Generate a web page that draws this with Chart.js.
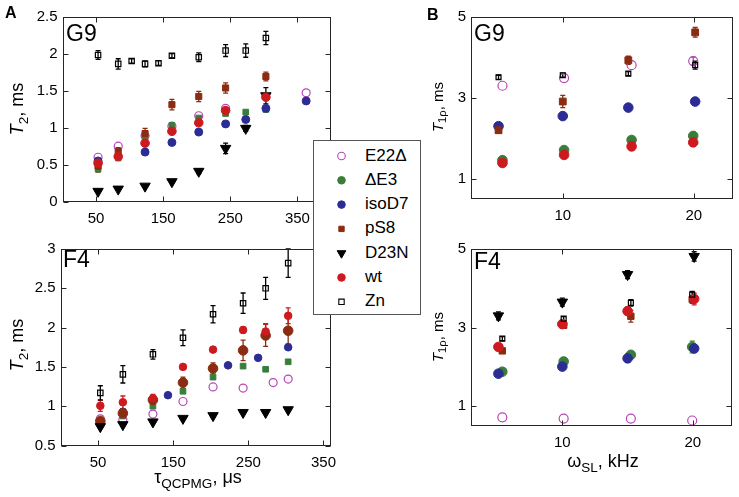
<!DOCTYPE html>
<html>
<head>
<meta charset="utf-8">
<script src="https://cdn.jsdelivr.net/npm/chart.js"></script>
<style>
  body { margin: 0; background: #fff; }
  #page { position: relative; width: 739px; height: 497px; overflow: hidden; font-family: "Liberation Sans", Arial, sans-serif; color: #000; }
  canvas.panel { position: absolute; }
  .lbl { position: absolute; white-space: nowrap; line-height: 1; }
  .tag { font-size: 23px; }
  .letter { font-size: 16px; font-weight: bold; }
  .ytitle { transform: translate(-50%, -50%) rotate(-90deg); }
  .xtitle { transform: translateX(-50%); }
  sub { font-size: 0.75em; vertical-align: -0.35em; line-height: 0; }
  #legend { position: absolute; left: 313px; top: 140px; width: 106px; height: 173px; border: 1px solid #555; background: #fff; z-index: 5; }
  #legend canvas { position: absolute; left: 0; top: 0; }
  #legend span { position: absolute; left: 51px; font-size: 17px; line-height: 24px; }
</style>
</head>
<body>
<div id="page">
  <canvas class="panel" id="aG9" width="345" height="232" style="left:0;top:0"></canvas>
  <canvas class="panel" id="aF4" width="345" height="262" style="left:0;top:235px"></canvas>
  <canvas class="panel" id="bG9" width="319" height="232" style="left:420px;top:0"></canvas>
  <canvas class="panel" id="bF4" width="319" height="262" style="left:420px;top:235px"></canvas>

  <div class="lbl letter" style="left:5px;top:5px">A</div>
  <div class="lbl letter" style="left:427px;top:7px">B</div>
  <div class="lbl tag" style="left:66px;top:22px">G9</div>
  <div class="lbl tag" style="left:63px;top:248px">F4</div>
  <div class="lbl tag" style="left:474px;top:22px">G9</div>
  <div class="lbl tag" style="left:474px;top:250px">F4</div>

  <div class="lbl ytitle" style="left:17px;top:109px;font-size:18px"><i>T</i><sub>2</sub>, ms</div>
  <div class="lbl ytitle" style="left:17px;top:345px;font-size:18px"><i>T</i><sub>2</sub>, ms</div>
  <div class="lbl ytitle" style="left:437px;top:107px;font-size:15px"><i>T</i><sub>1ρ</sub>, ms</div>
  <div class="lbl ytitle" style="left:437px;top:337px;font-size:15px"><i>T</i><sub>1ρ</sub>, ms</div>
  <div class="lbl xtitle" style="left:198px;top:468px;font-size:18px">τ<sub>QCPMG</sub>, μs</div>
  <div class="lbl xtitle" style="left:603px;top:452px;font-size:18px">ω<sub>SL</sub>, kHz</div>

  <div id="legend"><canvas id="legendMarks" width="50" height="173"></canvas></div>
</div>

<script>
// series, in legend order
const seriesNames = ["E22Δ", "ΔE3", "isoD7", "pS8", "D23N", "wt", "Zn"];
const seriesColors = ["#b845b8", "#3a7d3a", "#2b2d94", "#8b2c12", "#000000", "#cc1a1f", "#000000"];

// panel A, G9 : T2 vs tau_QCPMG
const aG9X = [53, 83, 123, 163, 203, 243, 273, 303, 363];
const aG9E22d = [0.60, 0.75, 0.89, 1.02, 1.16, 1.26, null, null, 1.47];
const aG9dE3 = [0.44, 0.59, 0.87, 1.03, 1.13, 1.19, 1.21, 1.245, null];
const aG9Iso = [0.55, null, 0.67, 0.80, 0.94, 1.05, 1.11, 1.26, 1.36];
const aG9PS8 = [0.48, 0.68, 0.92, 1.31, 1.42, 1.535, null, 1.69, null];
const aG9PS8Err = [0.08, 0.05, 0.07, 0.07, 0.07, 0.07, 0, 0.06, 0];
const aG9D23N = [0.14, 0.17, 0.21, 0.27, 0.41, 0.72, 0.99, 1.43, null];
const aG9D23NErr = [0, 0, 0, 0, 0.03, 0.07, 0.04, 0.11, 0];
const aG9Wt = [0.52, 0.61, 0.79, 0.95, 1.065, 1.23, null, 1.41, null];
const aG9ZnX = [53, 83, 103, 123, 143, 163, 203, 243, 273, 303];
const aG9Zn = [1.98, 1.86, 1.90, 1.86, 1.87, 1.97, 1.95, 2.04, 2.04, 2.21];
const aG9ZnErr = [0.06, 0.07, 0.03, 0.04, 0.03, 0.03, 0.06, 0.08, 0.09, 0.09];

// panel A, F4
const aF4X = [53, 83, 123, 163, 203, 243, 273, 303];
const aF4E22dX = [53, 83, 123, 163, 203, 243, 283, 303];
const aF4E22d = [0.84, 0.83, 0.90, 1.06, 1.245, 1.23, 1.30, 1.345];
const aF4dE3 = [0.77, 0.875, 1.00, 1.19, 1.37, 1.51, 1.47, 1.565];
const aF4IsoX = [83, 143, 223, 263, 303];
const aF4Iso = [0.93, 1.14, 1.52, 1.615, 1.75];
const aF4PS8 = [0.81, 0.91, 1.08, 1.30, 1.48, 1.71, 1.90, 1.96];
const aF4PS8Err = [0, 0.03, 0.04, 0.07, 0.07, 0.13, 0.14, 0.17];
const aF4D23N = [0.74, 0.765, 0.80, 0.845, 0.88, 0.92, 0.92, 0.955];
const aF4Wt = [1.005, 1.05, 1.10, 1.50, 1.72, 1.97, 1.95, 2.15];
const aF4WtErr = [0.07, 0.08, 0.05, 0, 0, 0.04, 0.1, 0.1];
const aF4Zn = [1.17, 1.405, 1.66, 1.87, 2.17, 2.31, 2.50, 2.82];
const aF4ZnErr = [0.09, 0.11, 0.06, 0.10, 0.11, 0.13, 0.14, 0.18];

// panel B, G9 : T1rho vs omega_SL
const bXa = [5.1, 10.0, 15.0, 20.1];
const bXb = [5.4, 10.1, 15.25, 19.95];
const bG9E22d = [3.30, 3.49, 3.81, 3.91];
const bG9E22dErr = [0, 0, 0, 0.1];
const bG9dE3 = [1.46, 1.71, 1.96, 2.06];
const bG9Iso = [2.30, 2.55, 2.76, 2.91];
const bG9PS8 = [2.20, 2.91, 3.93, 4.62];
const bG9PS8Err = [0.05, 0.15, 0.1, 0.12];
const bG9Wt = [1.39, 1.59, 1.80, 1.90];
const bG9WtErr = [0, 0, 0.1, 0.1];
const bG9Zn = [3.51, 3.56, 3.60, 3.81];
const bG9ZnErr = [0.05, 0.05, 0.05, 0.1];

// panel B, F4
const bF4E22d = [0.72, 0.69, 0.69, 0.64];
const bF4dE3 = [1.88, 2.14, 2.31, 2.51];
const bF4dE3Err = [0, 0, 0, 0.15];
const bF4Iso = [1.83, 2.01, 2.22, 2.47];
const bF4IsoErr = [0, 0, 0.1, 0.1];
const bF4PS8 = [2.41, 3.06, 3.29, 3.72];
const bF4PS8Err = [0.05, 0.05, 0.15, 0.1];
const bF4D23N = [3.30, 3.65, 4.35, 4.81];
const bF4D23NErr = [0.1, 0.1, 0.1, 0.12];
const bF4Wt = [2.51, 3.09, 3.42, 3.73];
const bF4WtErr = [0.05, 0.05, 0.1, 0.15];
const bF4Zn = [2.72, 3.23, 3.63, 3.84];
const bF4ZnErr = [0.05, 0.05, 0.08, 0.08];

// axis ticks
const aXTicks = [50, 150, 250, 350];
const aG9YTicks = [0, 0.5, 1, 1.5, 2, 2.5];
const aF4YTicks = [0.5, 1, 1.5, 2, 2.5, 3];
const bXTicks = [10, 20];
const bYTicks = [1, 3, 5];

const FONT = "'Liberation Sans', Arial, sans-serif";
const OPEN = [0, 6];

function ds(i, xs, ys, errs, shape, r) {
  const c = seriesColors[i];
  const open = OPEN.includes(i);
  return {
    label: seriesNames[i],
    data: xs.map((x, k) => ({ x: x, y: ys[k] })),
    errs: errs,
    pointStyle: shape,
    pointRotation: shape === "triangle" ? 180 : 0,
    pointRadius: r,
    borderColor: c,
    backgroundColor: open ? "rgba(0,0,0,0)" : c,
    borderWidth: open ? 1.2 : 1,
    showLine: false,
    order: 10 - i
  };
}

function axis(min, max, ticks, size, isY, pad) {
  return {
    type: "linear",
    min: min,
    max: max,
    afterBuildTicks: s => { s.ticks = ticks.map(v => ({ value: v })); },
    afterFit: s => { if (isY) s.width = size; else s.height = size; },
    grid: { display: false, drawTicks: false },
    border: { display: false },
    ticks: {
      color: "#000", padding: pad, autoSkip: false, maxRotation: 0,
      font: { family: FONT, size: 15 },
      callback: v => String(v)
    }
  };
}

// box round the plot with inward ticks on all four sides
const framePlugin = {
  id: "frame",
  afterDraw(chart) {
    const { ctx, chartArea: a, scales } = chart;
    const L = Math.round(a.left) + 0.5, R = Math.round(a.right) - 0.5;
    const T = Math.round(a.top) + 0.5, B = Math.round(a.bottom) - 0.5;
    ctx.save();
    ctx.strokeStyle = "#262626";
    ctx.lineWidth = 1;
    ctx.strokeRect(L, T, R - L, B - T);
    ctx.beginPath();
    scales.x.ticks.forEach(t => {
      const px = Math.round(scales.x.getPixelForValue(t.value)) + 0.5;
      ctx.moveTo(px, B); ctx.lineTo(px, B - 5);
      ctx.moveTo(px, T); ctx.lineTo(px, T + 5);
    });
    scales.y.ticks.forEach(t => {
      const py = Math.round(scales.y.getPixelForValue(t.value)) + 0.5;
      ctx.moveTo(L, py); ctx.lineTo(L + 5, py);
      ctx.moveTo(R, py); ctx.lineTo(R - 5, py);
    });
    ctx.stroke();
    ctx.restore();
  }
};

const errorBars = {
  id: "errorBars",
  beforeDatasetsDraw(chart) {
    const { ctx, scales: { x, y } } = chart;
    chart.data.datasets.forEach(d => {
      if (!d.errs) return;
      ctx.save();
      ctx.strokeStyle = d.borderColor;
      ctx.lineWidth = 1.3;
      ctx.beginPath();
      d.data.forEach((p, i) => {
        const e = d.errs[i];
        if (p.y == null || !e) return;
        const px = x.getPixelForValue(p.x);
        const y1 = y.getPixelForValue(p.y - e), y2 = y.getPixelForValue(p.y + e);
        ctx.moveTo(px, y1); ctx.lineTo(px, y2);
        ctx.moveTo(px - 2.5, y1); ctx.lineTo(px + 2.5, y1);
        ctx.moveTo(px - 2.5, y2); ctx.lineTo(px + 2.5, y2);
      });
      ctx.stroke();
      ctx.restore();
    });
  }
};

function makeChart(id, datasets, xAxis, yAxis, padding) {
  return new Chart(document.getElementById(id), {
    type: "scatter",
    data: { datasets: datasets },
    options: {
      responsive: false,
      animation: false,
      devicePixelRatio: 1,
      layout: { padding: padding },
      plugins: { legend: { display: false }, tooltip: { enabled: false } },
      scales: { x: xAxis, y: yAxis }
    },
    plugins: [errorBars, framePlugin]
  });
}

makeChart("aG9", [
  ds(0, aG9X, aG9E22d, null, "circle", 4),
  ds(1, aG9X, aG9dE3, null, "rect", 4),
  ds(2, aG9X, aG9Iso, null, "circle", 4),
  ds(3, aG9X, aG9PS8, aG9PS8Err, "rect", 4.3),
  ds(4, aG9X, aG9D23N, aG9D23NErr, "triangle", 6),
  ds(5, aG9X, aG9Wt, null, "circle", 4.3),
  ds(6, aG9ZnX, aG9Zn, aG9ZnErr, "rect", 3.8)
], axis(0, 400, aXTicks, 30, false, 8), axis(0, 2.5, aG9YTicks, 40, true, 5),
  { left: 22.5, top: 16.5, right: 14, bottom: 0.3 });

makeChart("aF4", [
  ds(0, aF4E22dX, aF4E22d, null, "circle", 4),
  ds(1, aF4X, aF4dE3, null, "rect", 4),
  ds(2, aF4IsoX, aF4Iso, null, "circle", 3.8),
  ds(3, aF4X, aF4PS8, aF4PS8Err, "circle", 4.8),
  ds(4, aF4X, aF4D23N, null, "triangle", 6),
  ds(5, aF4X, aF4Wt, aF4WtErr, "circle", 3.8),
  ds(6, aF4X, aF4Zn, aF4ZnErr, "rect", 3.8)
], axis(0, 360, aXTicks, 30, false, 8), axis(0.5, 3, aF4YTicks, 40, true, 5),
  { left: 20.5, top: 11, right: 14, bottom: 21.5 });

makeChart("bG9", [
  ds(0, bXb, bG9E22d, bG9E22dErr, "circle", 4.5),
  ds(1, bXb, bG9dE3, null, "circle", 4.8),
  ds(2, bXa, bG9Iso, null, "circle", 4.8),
  ds(3, bXa, bG9PS8, bG9PS8Err, "rect", 4.8),
  ds(5, bXb, bG9Wt, bG9WtErr, "circle", 4.8),
  ds(6, bXa, bG9Zn, bG9ZnErr, "rect", 3.5)
], axis(3, 23, bXTicks, 30, false, 8), axis(0.5, 5, bYTicks, 40, true, 5),
  { left: 11, top: 17, right: 1, bottom: 3 });

makeChart("bF4", [
  ds(0, bXb, bF4E22d, null, "circle", 4.5),
  ds(1, bXb, bF4dE3, bF4dE3Err, "circle", 4.8),
  ds(2, bXa, bF4Iso, bF4IsoErr, "circle", 4.8),
  ds(3, bXb, bF4PS8, bF4PS8Err, "rect", 4.5),
  ds(4, bXa, bF4D23N, bF4D23NErr, "triangle", 6),
  ds(5, bXa, bF4Wt, bF4WtErr, "circle", 4.8),
  ds(6, bXb, bF4Zn, bF4ZnErr, "rect", 3.5)
], axis(3, 23, bXTicks, 30, false, 8), axis(0.5, 5, bYTicks, 40, true, 5),
  { left: 11, top: 11, right: 1, bottom: 41 });

// legend: text as spans, markers on a small canvas
const legendShapes = ["circle", "circle", "circle", "rect", "triangle", "circle", "rect"];
const legend = document.getElementById("legend");
const lctx = document.getElementById("legendMarks").getContext("2d");
seriesNames.forEach((name, i) => {
  const cy = 15 + i * 24.3;
  const s = document.createElement("span");
  s.textContent = name;
  s.style.top = (cy - 12.5) + "px";
  legend.appendChild(s);
  lctx.fillStyle = OPEN.includes(i) ? "rgba(0,0,0,0)" : seriesColors[i];
  lctx.strokeStyle = seriesColors[i];
  lctx.lineWidth = OPEN.includes(i) ? 1.1 : 1;
  Chart.helpers.drawPoint(lctx, {
    pointStyle: legendShapes[i],
    radius: legendShapes[i] === "triangle" ? 5 : 3.8,
    rotation: legendShapes[i] === "triangle" ? 180 : 0,
    borderWidth: OPEN.includes(i) ? 1.1 : 1
  }, 27.5, cy);
});
</script>
</body>
</html>
